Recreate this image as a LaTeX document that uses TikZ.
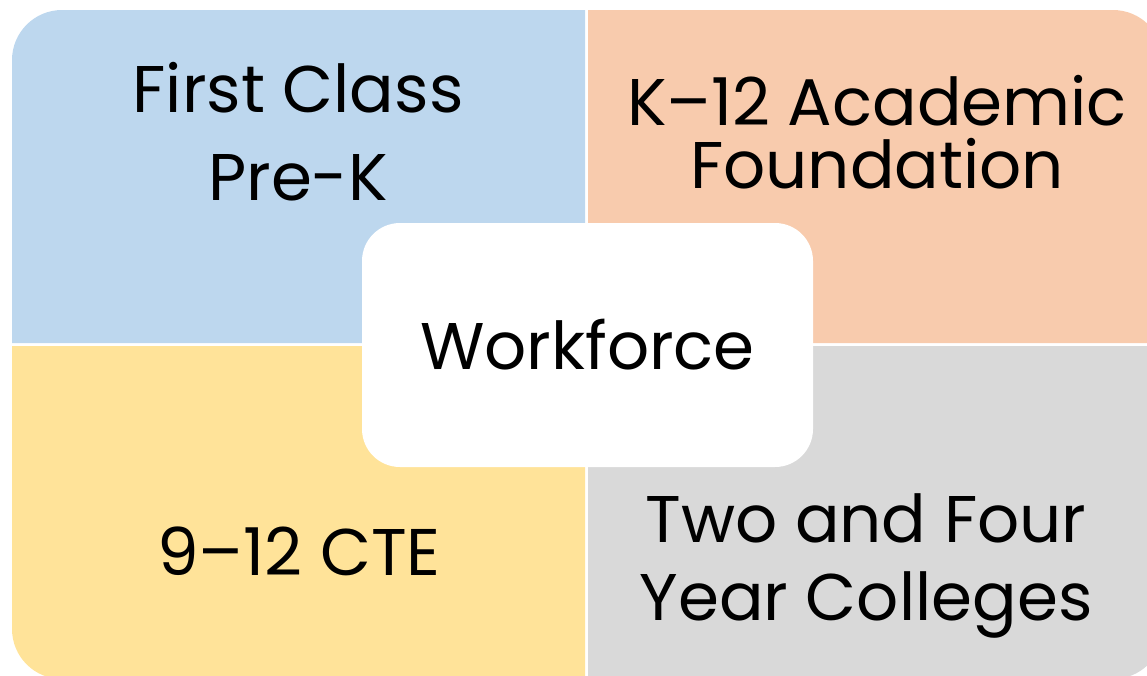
\documentclass[tikz,border=0pt]{standalone}
\usepackage{fontspec}
\setmainfont{Poppins}
\usepackage{xcolor}
\usepackage{tikz}
\usetikzlibrary{positioning,calc}
\definecolor{prekblue}{HTML}{BDD7EE}
\definecolor{acadpeach}{HTML}{F8CBAD}
\definecolor{cteyellow}{HTML}{FFE399}
\definecolor{collgrey}{HTML}{D9D9D9}
\tikzstyle{label} = [align=center, inner sep=0pt, anchor=base,
    font=\fontsize{66}{88}\selectfont]
\tikzstyle{hub} = [fill=white, rounded corners=38pt, minimum width=451pt,
    minimum height=244pt, inner sep=0pt, font=\fontsize{66}{80}\selectfont]

\begin{document}
\begin{tikzpicture}[x=1pt, y=-1pt]
    \useasboundingbox (0,0) rectangle (1147,675);
    % four quarters, only the outer corner is rounded
    \fill [prekblue] (12,343) -- (12,60) arc (180:270:50) -- (585,10) -- (585,343) -- cycle;
    \fill [acadpeach] (588,10) -- (1113,10) arc (270:360:50) -- (1163,343) -- (588,343) -- cycle;
    \fill [cteyellow] (12,346) -- (585,346) -- (585,679) -- (62,679) arc (90:180:50) -- cycle;
    \fill [collgrey] (588,346) -- (1163,346) -- (1163,629) arc (0:90:50) -- (588,679) -- cycle;

    % base anchor sits on the last line
    \node (prek) [label] at (298,200) {First Class\\Pre-K};
    \node (acad) [label, font=\fontsize{66}{63}\selectfont] at (877,188) {K–12 Academic\\Foundation};
    \node (cte) [label] at (299,575) {9–12 CTE};
    \node (coll) [label, font=\fontsize{66}{78}\selectfont] at (866,620) {Two and Four\\Year Colleges};

    \node (work) [hub] at (587.5,345) {Workforce};
\end{tikzpicture}
\end{document}
